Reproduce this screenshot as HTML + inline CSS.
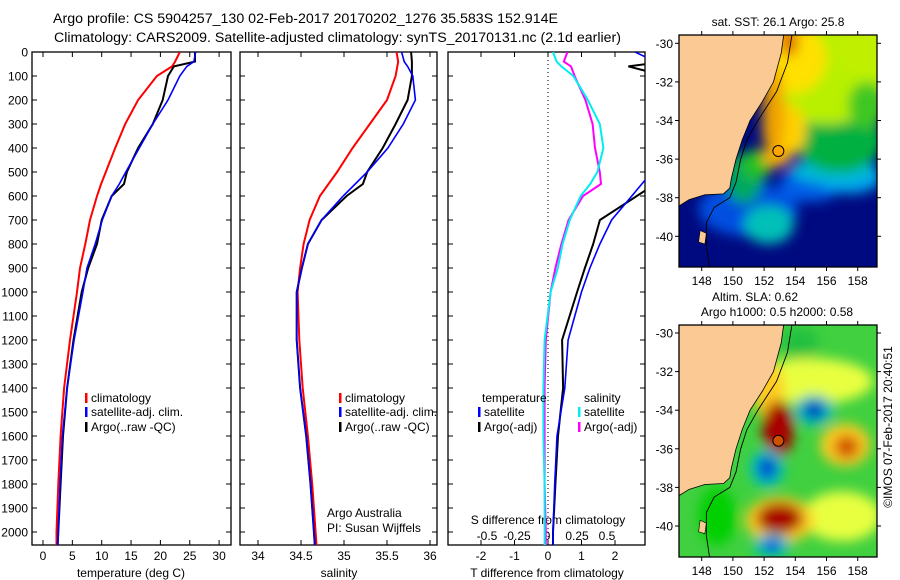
<!DOCTYPE html>
<html><head><meta charset="utf-8"><style>
html,body{margin:0;padding:0;background:#fff;width:900px;height:580px;overflow:hidden}
svg text{font-family:"Liberation Sans",sans-serif;fill:#000}
</style></head><body>
<svg id="s" width="900" height="580" viewBox="0 0 900 580" xmlns="http://www.w3.org/2000/svg">
<defs>
<filter id="bl" x="-50%" y="-50%" width="200%" height="200%"><feGaussianBlur stdDeviation="6"/></filter>
<clipPath id="c1"><rect x="32" y="52" width="199" height="493"/></clipPath>
<clipPath id="c2"><rect x="240" y="52" width="197" height="493"/></clipPath>
<clipPath id="c3"><rect x="448" y="52" width="197" height="493"/></clipPath>
<clipPath id="m1"><rect x="679" y="35" width="198" height="232"/></clipPath>
<clipPath id="m2"><rect x="679" y="325" width="198" height="232"/></clipPath>
</defs>
<text x="53" y="23" font-size="13.5" textLength="505" lengthAdjust="spacingAndGlyphs">Argo profile: CS 5904257_130 02-Feb-2017 20170202_1276 35.583S 152.914E</text>
<text x="54" y="42" font-size="13.5" textLength="567" lengthAdjust="spacingAndGlyphs">Climatology: CARS2009. Satellite-adjusted climatology: synTS_20170131.nc (2.1d earlier)</text>
<text x="778" y="26" font-size="12" text-anchor="middle">sat. SST: 26.1  Argo: 25.8</text>
<text x="755" y="301" font-size="12" text-anchor="middle">Altim. SLA: 0.62</text>
<text x="777" y="316" font-size="12" text-anchor="middle">Argo h1000: 0.5 h2000: 0.58</text>
<text x="0" y="0" font-size="12" text-anchor="middle" transform="translate(892,427) rotate(-90)">©IMOS 07-Feb-2017 20:40:51</text>
<g id="g"></g>
</svg>
<script>
// ---- data ----
const depths = [0,40,60,100,200,300,400,500,550,600,700,800,900,1000,1200,1400,1600,1800,2000,2055];
const tempArgo = [25.9,25.9,22.3,21.3,20.4,18.7,16.2,14.3,13.8,11.7,10.0,9.2,7.7,6.6,5.2,4.1,3.4,3.0,2.6,2.5];
const tempSat  = [26.0,25.7,24.5,23.3,21.3,18.7,16.4,14.1,13.0,11.7,10.1,8.9,7.5,6.8,5.3,4.1,3.3,2.9,2.6,2.5];
const tempClim = [23.3,22.5,22.0,19.4,16.2,14.0,12.3,10.7,9.9,9.2,8.0,7.2,6.3,5.8,4.6,3.6,3.0,2.6,2.3,2.3];
const salArgo = [35.78,35.79,35.79,35.79,35.74,35.60,35.45,35.27,35.22,35.03,34.74,34.58,34.51,34.45,34.45,34.49,34.56,34.61,34.65,34.66];
const salSat  = [35.67,35.70,35.74,35.80,35.83,35.69,35.51,35.27,35.13,34.99,34.74,34.58,34.51,34.45,34.45,34.49,34.56,34.61,34.65,34.66];
const salClim = [35.61,35.63,35.62,35.60,35.50,35.30,35.10,34.92,34.82,34.72,34.60,34.53,34.49,34.46,34.48,34.52,34.58,34.63,34.67,34.68];
const dtArgo = [3.5,3.5,2.4,3.5,3.5,3.5,3.5,3.5,3.2,2.65,1.55,1.35,1.1,0.87,0.42,0.45,0.3,0.22,0.15,0.15];
const dtSat  = [2.6,3.2,3.2,3.3,3.4,3.5,3.5,3.1,2.8,2.5,1.9,1.55,1.25,1.0,0.6,0.5,0.27,0.2,0.15,0.15];
const dsSat  = [0.05,0.08,0.12,0.22,0.34,0.44,0.47,0.42,0.36,0.28,0.19,0.13,0.09,0.03,-0.02,-0.03,-0.03,-0.02,-0.02,-0.02];
const dsArgo = [0.17,0.14,0.20,0.23,0.32,0.38,0.40,0.44,0.45,0.30,0.18,0.12,0.07,0.03,-0.01,-0.02,-0.02,-0.02,-0.01,-0.01];
const depthTicks = [0,100,200,300,400,500,600,700,800,900,1000,1100,1200,1300,1400,1500,1600,1700,1800,1900,2000];
const tempTicks = [0,5,10,15,20,25,30];
const salTicks = [34,34.5,35,35.5,36];
const salTickLabels = ["34","34.5","35","35.5","36"];
const dtTicks = [-2,-1,0,1,2];
const dsTicks = [-0.5,-0.25,0,0.25,0.5];
const dsTickLabels = ["-0.5","-0.25","0","0.25","0.5"];
const lonTicks = [148,150,152,154,156,158];
const latTicks = [-30,-32,-34,-36,-38,-40];
const argoLon = 152.914, argoLat = -35.583;

// ---- scales ----
const yD = d => 52 + d*0.24;
const xT = t => 43 + t*5.87;
const xS = s => 258 + (s-34)*86;
const xDT = v => 548 + v*33.5;
const xDS = v => 547 + v*120;
const mx = lon => 701.7 + (lon-148)*15.6;
const my1 = lat => 43.3 + (-30-lat)*19.3;
const my2 = lat => 333 + (-30-lat)*19.3;

const NS = "http://www.w3.org/2000/svg";
const G = document.getElementById('g');
function mk(tag, attrs, parent){const e=document.createElementNS(NS,tag);for(const k in attrs)e.setAttribute(k,attrs[k]);(parent||G).appendChild(e);return e;}

function series(xs, xf, color, w, clip, name){
  const pts = xs.map((v,i)=>xf(v).toFixed(1)+','+yD(depths[i]).toFixed(1)).join(' ');
  const p = mk('polyline',{points:pts,fill:'none',stroke:color,'stroke-width':w,'clip-path':'url(#'+clip+')','stroke-linejoin':'miter'});
  
  
}

function panel(x0,w,name){
  const r = mk('rect',{x:x0,y:52,width:w,height:493,fill:'none',stroke:'#000','stroke-width':1.3});
  
  
  depthTicks.forEach(d=>{
    mk('line',{x1:x0,x2:x0+5,y1:yD(d),y2:yD(d),stroke:'#000'});
    mk('line',{x1:x0+w-5,x2:x0+w,y1:yD(d),y2:yD(d),stroke:'#000'});
  });
}
panel(32,199,'temperature-panel');
panel(240,197,'salinity-panel');
panel(448,197,'difference-panel');

depthTicks.forEach(d=>{
  const t = mk('text',{x:28,y:yD(d)+4.5,'font-size':12,'text-anchor':'end'});
  t.textContent = d;
  
  
});
function xticks(vals, labels, xf, ly){
  vals.forEach((v,i)=>{
    const x = xf(v);
    mk('line',{x1:x,x2:x,y1:52,y2:57,stroke:'#000'});
    mk('line',{x1:x,x2:x,y1:540,y2:545,stroke:'#000'});
    const t = mk('text',{x:x,y:ly,'font-size':12,'text-anchor':'middle'});
    t.textContent = labels[i];
    
    
  });
}
xticks(tempTicks, tempTicks.map(String), xT, 560);
xticks(salTicks, salTickLabels, xS, 560);
xticks(dtTicks, dtTicks.map(String), xDT, 560);
dsTicks.forEach((v,i)=>{
  const t = mk('text',{x:xDS(v),y:540,'font-size':12,'text-anchor':'middle'});
  t.textContent = dsTickLabels[i];
  
  
});
function label(x,y,txt,name,anchor){
  const t = mk('text',{x:x,y:y,'font-size':12,'text-anchor':anchor||'start'});
  t.textContent = txt;
  
  
}
label(131,577,'temperature (deg C)','temperature-axis-title','middle');
label(339,577,'salinity','salinity-axis-title','middle');
label(547,577,'T difference from climatology','t-diff-axis-title','middle');
label(548,524,'S difference from climatology','s-diff-axis-title','middle');
label(327,517,'Argo Australia','credit-line-1');
label(327,532,'PI: Susan Wijffels','credit-line-2');

const zl = mk('line',{x1:548,x2:548,y1:52,y2:545,stroke:'#000','stroke-dasharray':'1,3'});



series(tempClim, xT, '#ff0000', 2, 'c1', 'temp-climatology-line');
series(tempArgo, xT, '#000', 2, 'c1', 'temp-argo-line');
series(tempSat, xT, '#0000ff', 1.6, 'c1', 'temp-satellite-line');
series(salClim, xS, '#ff0000', 2, 'c2', 'sal-climatology-line');
series(salArgo, xS, '#000', 2, 'c2', 'sal-argo-line');
series(salSat, xS, '#0000ff', 1.6, 'c2', 'sal-satellite-line');
series(dtArgo, xDT, '#000', 2, 'c3', 'tdiff-argo-line');
series(dtSat, xDT, '#0000ff', 1.6, 'c3', 'tdiff-satellite-line');
series(dsArgo, xDS, '#ff00ff', 2, 'c3', 'sdiff-argo-line');
series(dsSat, xDS, '#00eeee', 2, 'c3', 'sdiff-satellite-line');

function legend(x,y,color,txt,name){
  if(color){const m = mk('rect',{x:x-6,y:y-9,width:2.5,height:10,fill:color});
  
  }
  label(x,y,txt,name);
}
legend(91,402,'#ff0000','climatology','legend-climatology');
legend(91,416,'#0000ff','satellite-adj. clim.','legend-satellite-adj');
legend(91,431,'#000','Argo(..raw -QC)','legend-argo');
legend(345,402,'#ff0000','climatology','legend2-climatology');
legend(345,416,'#0000ff','satellite-adj. clim.','legend2-satellite-adj');
legend(345,431,'#000','Argo(..raw -QC)','legend2-argo');
legend(482,402,null,'temperature','legend-temperature-heading');
legend(484,416,'#0000ff','satellite','legend-t-satellite');
legend(484,431,'#000','Argo(-adj)','legend-t-argo');
legend(584,402,null,'salinity','legend-salinity-heading');
legend(584,416,'#00eeee','satellite','legend-s-satellite');
legend(584,431,'#ff00ff','Argo(-adj)','legend-s-argo');

// ---- maps ----
const land = [[146,-29],[153.35,-29],[153.1,-30.5],[152.6,-32],[151.9,-33],[151.1,-34],[150.6,-35],[150.2,-36],[149.9,-37],[149.8,-37.5],[149.4,-37.8],[148.2,-37.85],[147.2,-38.1],[146,-38.7]];
const tas = [[147.9,-39.7],[148.3,-39.85],[148.2,-40.4],[147.8,-40.3]];
const shelf = [[153.8,-29.5],[153.5,-31],[152.8,-32.5],[151.6,-34],[150.9,-35],[150.5,-36],[150.2,-37.2],[149.8,-38],[148.8,-38.5],[148.3,-39.3],[148.3,-40.5],[148.5,-41.6]];
const sstBlobs = [
 ['#0050e0',151,-38.6,3.2,1.4],['#0060e8',155,-37.3,2,0.9],['#00a0f0',157.5,-37,2,0.8],
 ['#00c0b8',152.3,-39.4,1.6,1.0],['#00a860',150.7,-37,1.2,1.3],['#00b8d8',156.5,-36.6,2.8,0.7],
 ['#00b040',156.8,-35,2.8,1.7],['#20c020',151.5,-36.3,1.0,0.8],['#b8f000',156,-31.6,4.2,2.6],
 ['#c0f000',158.5,-30.2,2,1.5],['#40c820',158.6,-33.2,1.2,1.2],
 ['#ffe000',153.8,-30.8,2.2,1.8],['#ffd000',153.3,-34.5,1.4,1.4],['#f0a000',152.6,-33.6,0.7,2.5],
 ['#e07000',153.6,-29.9,0.6,0.8],['#ffb000',152.8,-35.9,0.9,0.5]
];
const slaBlobs = [
 ['#e8ff40',155,-32.5,4,1.2],['#e8ff40',157,-39.5,2.5,1.3],['#ffcc20',152.3,-33,1,1.5],
 ['#ffcc20',157.2,-35.8,1.6,1.1],['#d05000',157.3,-35.9,0.8,0.6],['#ffcc20',153,-39.7,2.2,1.2],
 ['#a80000',152.9,-35,1.0,1.5],['#a80000',153,-39.6,1.5,0.8],['#00c0c0',155.2,-34,1.3,0.8],
 ['#0030c0',155.2,-34,0.7,0.45],['#00c0c0',152.2,-37,1.1,1.0],['#0040d0',152.2,-37,0.6,0.6],
 ['#00c0c0',152.5,-41,1.2,0.6],['#0050e0',152.5,-41,0.6,0.35],['#20c040',154.3,-30.5,1.2,0.8],
 ['#00d000',149,-39.5,1.2,1.5]
];
function map(my, clip, base, blobs, y0, marker, name){
  const g = mk('g',{'clip-path':'url(#'+clip+')'});
  
  
  mk('rect',{x:679,y:y0,width:198,height:232,fill:base},g);
  const bg = mk('g',{filter:'url(#bl)'},g);
  blobs.forEach(b=>{
    const e = mk('ellipse',{cx:mx(b[1]),cy:my(b[2]),rx:b[3]*15.6,ry:b[4]*19.3,fill:b[0]},bg);
    
    
  });
  const lp = mk('polygon',{points:land.map(p=>mx(p[0])+','+my(p[1])).join(' '),fill:'#fbc993',stroke:'#000','stroke-width':0.8},g);
  
  
  const tp = mk('polygon',{points:tas.map(p=>mx(p[0])+','+my(p[1])).join(' '),fill:'#fbc993',stroke:'#000','stroke-width':0.6},g);
  
  
  const sl = mk('polyline',{points:shelf.map(p=>mx(p[0])+','+my(p[1])).join(' '),fill:'none',stroke:'#000','stroke-width':0.9},g);
  
  
  const fr = mk('rect',{x:679,y:y0,width:198,height:232,fill:'none',stroke:'#000','stroke-width':1.3});
  
  
  const c = mk('circle',{cx:mx(argoLon),cy:my(argoLat),r:5.5,fill:marker,stroke:'#000','stroke-width':1});
  
  
  lonTicks.forEach(l=>{
    mk('line',{x1:mx(l),x2:mx(l),y1:y0-4,y2:y0,stroke:'#000'});
    mk('line',{x1:mx(l),x2:mx(l),y1:y0+232,y2:y0+236,stroke:'#000'});
    const t = mk('text',{x:mx(l),y:y0+250,'font-size':12,'text-anchor':'middle'});
    t.textContent = l;
    
    
  });
  latTicks.forEach(l=>{
    mk('line',{x1:675,x2:679,y1:my(l),y2:my(l),stroke:'#000'});
    mk('line',{x1:877,x2:881,y1:my(l),y2:my(l),stroke:'#000'});
    const t = mk('text',{x:673,y:my(l)+4.5,'font-size':12,'text-anchor':'end'});
    t.textContent = l;
    
    
  });
}
map(my1,'m1','#000a80',sstBlobs,35,'#ffa500','sst-map');
map(my2,'m2','#40d040',slaBlobs,325,'#d05000','sla-map');
</script>
</body></html>
